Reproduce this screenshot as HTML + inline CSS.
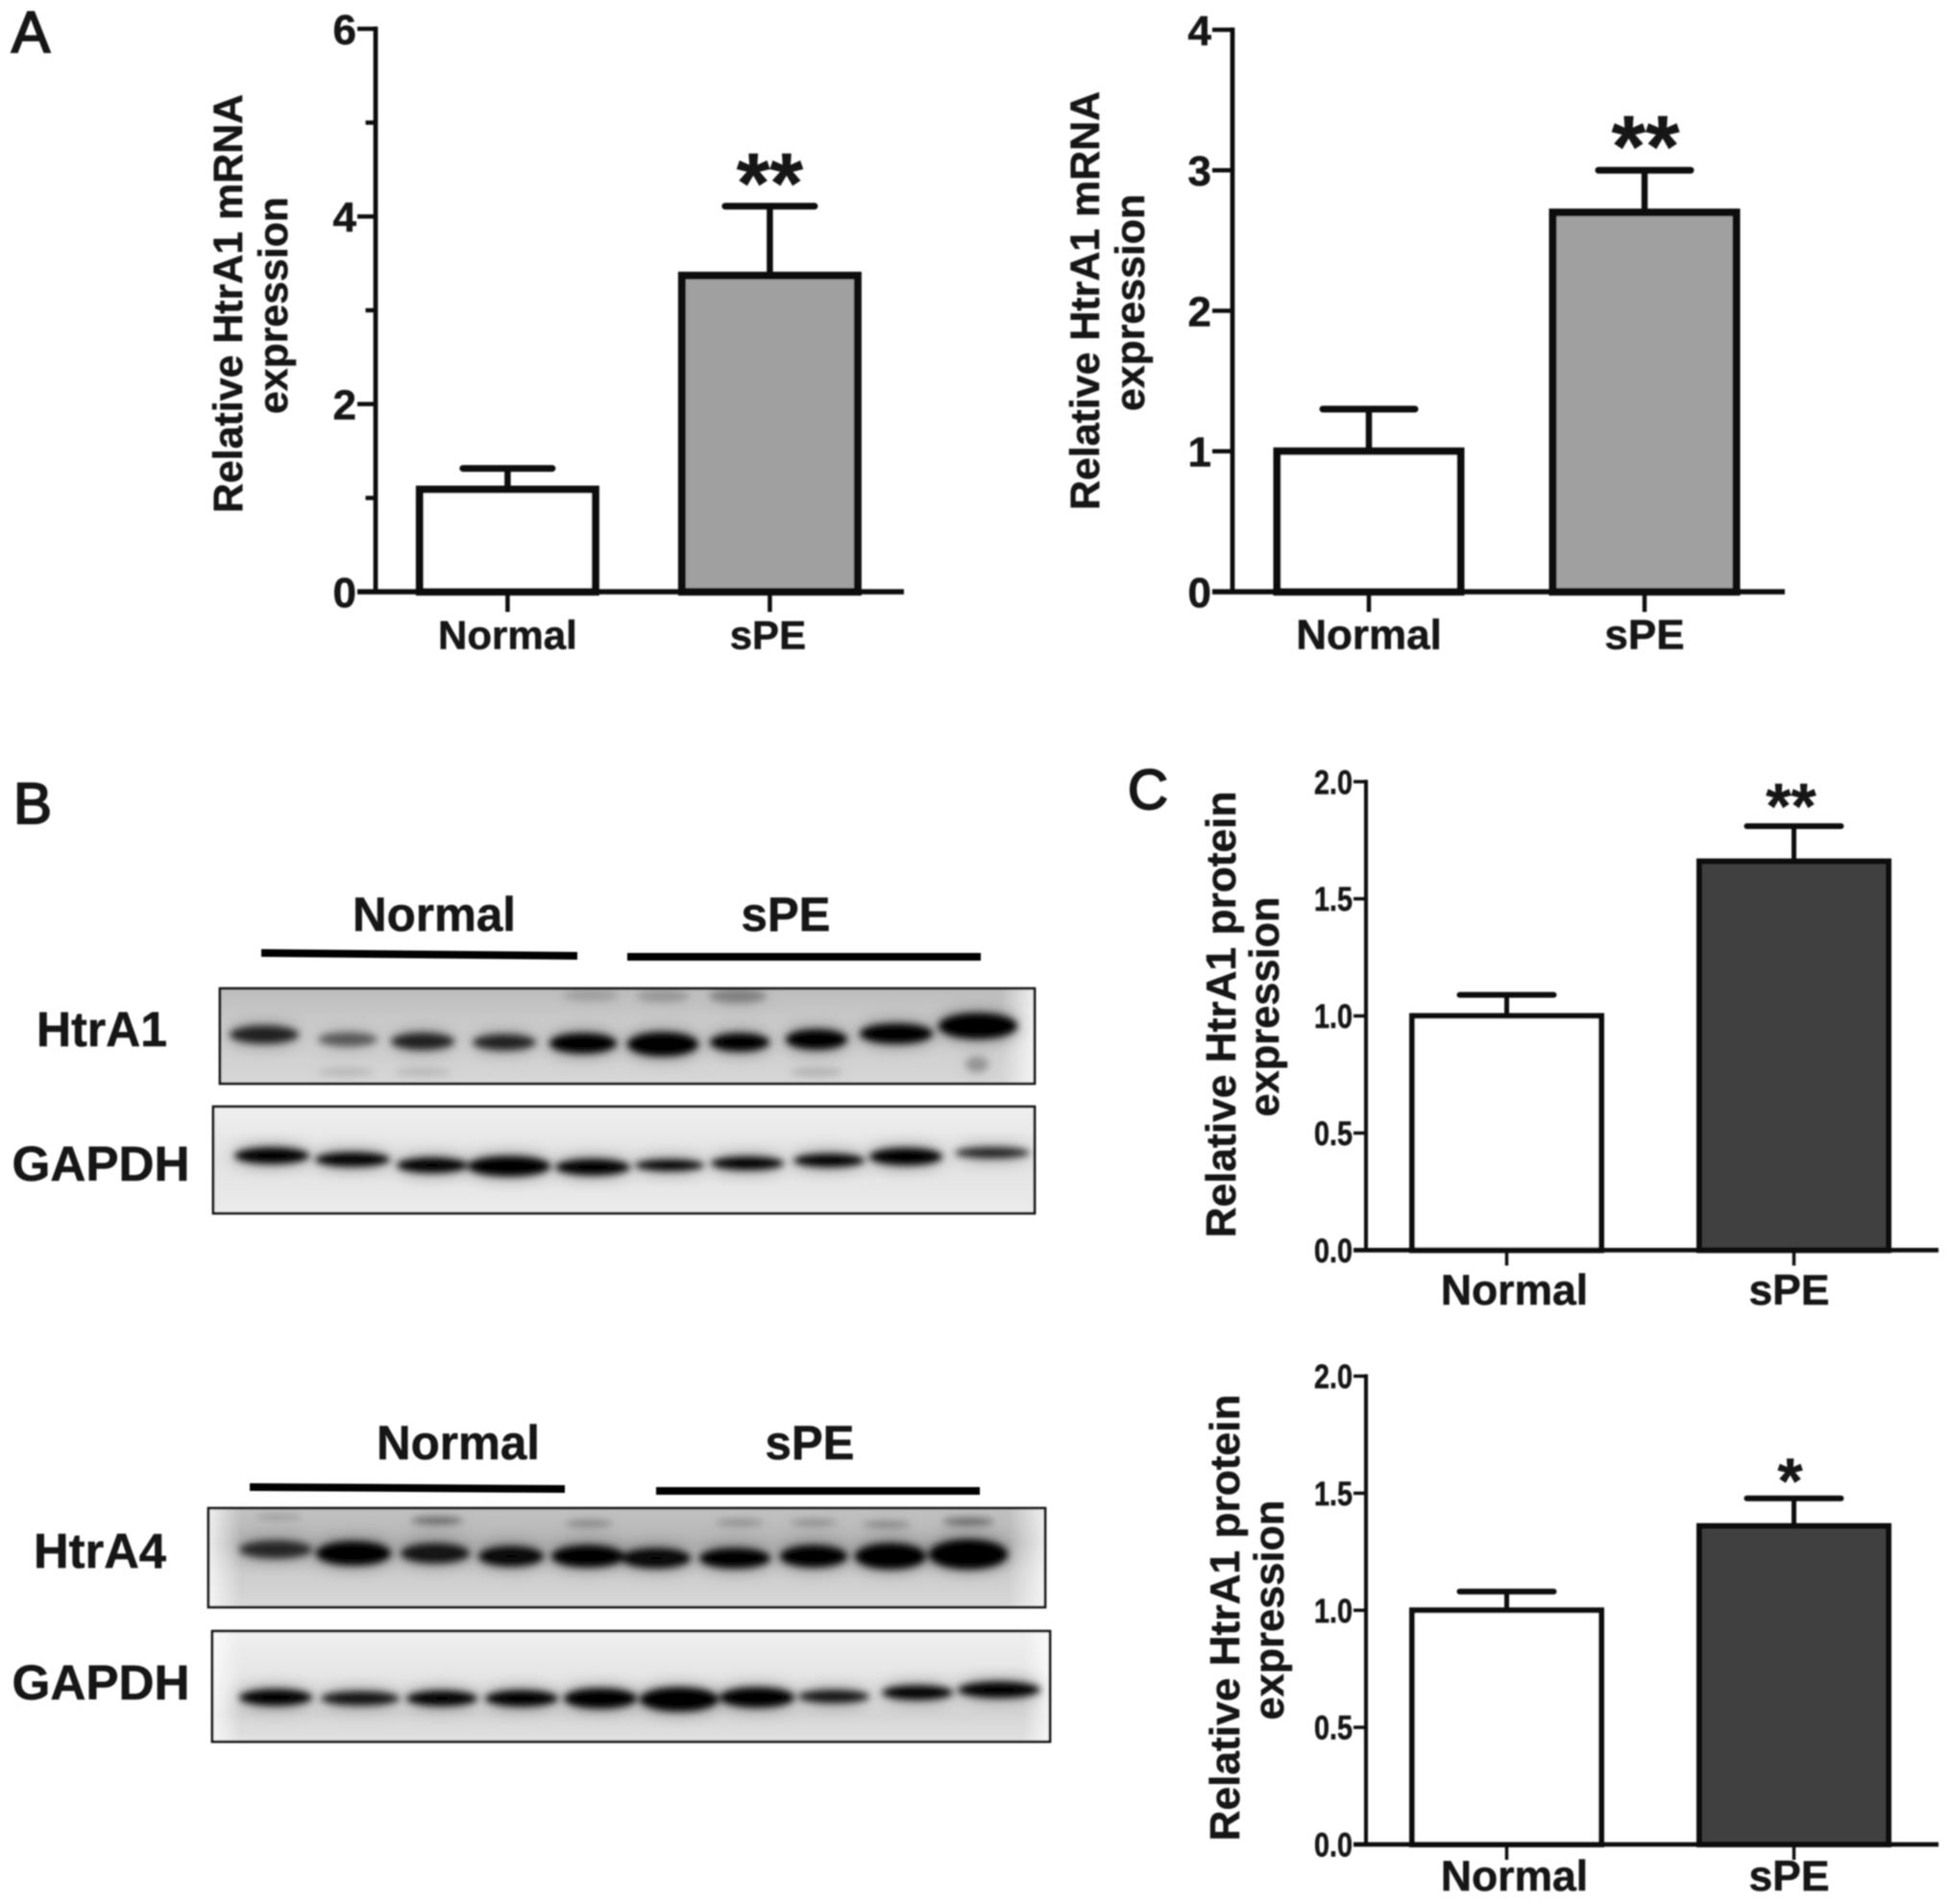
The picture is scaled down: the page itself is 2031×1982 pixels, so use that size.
<!DOCTYPE html>
<html lang="en">
<head>
<meta charset="utf-8">
<title>HtrA1 and HtrA4 expression</title>
<style>
html,body{margin:0;padding:0;background:#fff;}
svg{display:block;}
text{font-family:"Liberation Sans",sans-serif;font-weight:bold;fill:#141414;stroke:#141414;stroke-width:0.5px;}
</style>
</head>
<body>
<svg id="figure" xmlns="http://www.w3.org/2000/svg" width="2031" height="1982" viewBox="0 0 2031 1982">
<defs>
<filter id="soft" x="-5%" y="-5%" width="110%" height="110%"><feGaussianBlur stdDeviation="0.7"/></filter>
<filter id="bandBlur" x="-10%" y="-60%" width="120%" height="220%">
<feGaussianBlur in="SourceGraphic" stdDeviation="3.8" result="core"/>
<feGaussianBlur in="SourceGraphic" stdDeviation="9" result="wide"/>
<feComponentTransfer in="wide" result="halo"><feFuncA type="linear" slope="0.55"/></feComponentTransfer>
<feMerge><feMergeNode in="halo"/><feMergeNode in="core"/></feMerge>
</filter>
<linearGradient id="bgA1" x1="0" y1="0" x2="0" y2="1"><stop offset="0" stop-color="#bcbcbc"/><stop offset="0.35" stop-color="#cacaca"/><stop offset="1" stop-color="#d6d6d6"/></linearGradient>
<linearGradient id="bgG1" x1="0" y1="0" x2="0" y2="1"><stop offset="0" stop-color="#efefef"/><stop offset="0.5" stop-color="#e2e2e2"/><stop offset="1" stop-color="#ebebeb"/></linearGradient>
<linearGradient id="bgA4" x1="0" y1="0" x2="0" y2="1"><stop offset="0" stop-color="#c2c2c2"/><stop offset="0.35" stop-color="#b4b4b4"/><stop offset="0.65" stop-color="#cccccc"/><stop offset="1" stop-color="#d8d8d8"/></linearGradient>
<linearGradient id="bgG2" x1="0" y1="0" x2="0" y2="1"><stop offset="0" stop-color="#efefef"/><stop offset="0.45" stop-color="#e4e4e4"/><stop offset="0.75" stop-color="#d4d4d4"/><stop offset="1" stop-color="#e2e2e2"/></linearGradient>
<linearGradient id="edgeL" x1="0" y1="0" x2="1" y2="0"><stop offset="0" stop-color="#fff" stop-opacity="0.75"/><stop offset="1" stop-color="#fff" stop-opacity="0"/></linearGradient>
<linearGradient id="edgeR" x1="0" y1="0" x2="1" y2="0"><stop offset="0" stop-color="#fff" stop-opacity="0"/><stop offset="1" stop-color="#fff" stop-opacity="0.75"/></linearGradient>
<clipPath id="clipA1"><rect x="229" y="1029" width="848" height="99"/></clipPath>
<clipPath id="clipG1"><rect x="222" y="1152" width="855" height="111"/></clipPath>
<clipPath id="clipA4"><rect x="217" y="1570" width="871" height="103"/></clipPath>
<clipPath id="clipG2"><rect x="221" y="1698" width="872" height="115"/></clipPath>
</defs>
<g id="root" filter="url(#soft)">
<text x="12" y="54" font-size="60" style="font-weight:normal;stroke-width:2px">A</text>
<text x="14" y="857" font-size="60" style="font-weight:normal;stroke-width:2px">B</text>
<text x="1174" y="842" font-size="58" style="font-weight:normal;stroke-width:2px">C</text>

<g>
<text x="452" y="969" text-anchor="middle" font-size="50" textLength="170" lengthAdjust="spacingAndGlyphs">Normal</text>
<text x="818" y="969" text-anchor="middle" font-size="50" textLength="93" lengthAdjust="spacingAndGlyphs">sPE</text>
<polygon points="272,988 601,991 601,999 272,996" fill="#000"/>
<rect x="653" y="992" width="368" height="8" fill="#000"/>
<text x="106" y="1089" text-anchor="middle" font-size="51" textLength="136" lengthAdjust="spacingAndGlyphs">HtrA1</text>
<text x="105" y="1229" text-anchor="middle" font-size="51" textLength="185" lengthAdjust="spacingAndGlyphs">GAPDH</text>

<g clip-path="url(#clipA1)">
<rect x="229" y="1029" width="848" height="99" fill="url(#bgA1)"/>
<rect x="1042" y="1029" width="35" height="99" fill="url(#edgeR)"/>
<g filter="url(#bandBlur)">
<ellipse cx="275" cy="1077" rx="36" ry="9" opacity="0.78"/>
<ellipse cx="362" cy="1082" rx="31" ry="7" opacity="0.5"/>
<ellipse cx="440" cy="1084" rx="33" ry="8.5" opacity="0.78"/>
<ellipse cx="525" cy="1085" rx="33" ry="8" opacity="0.78"/>
<ellipse cx="607" cy="1086" rx="35" ry="10" opacity="1"/>
<ellipse cx="690" cy="1087" rx="37" ry="12" opacity="1"/>
<ellipse cx="770" cy="1085" rx="31" ry="9" opacity="1"/>
<ellipse cx="850" cy="1082" rx="32" ry="10" opacity="1"/>
<ellipse cx="933" cy="1076" rx="38" ry="10" opacity="1"/>
<ellipse cx="1018" cy="1068" rx="41" ry="13" opacity="1"/>
<ellipse cx="615" cy="1036" rx="30" ry="6" opacity="0.14"/>
<ellipse cx="690" cy="1037" rx="28" ry="6" opacity="0.18"/>
<ellipse cx="768" cy="1037" rx="30" ry="7" opacity="0.28"/>
<ellipse cx="360" cy="1116" rx="30" ry="4" opacity="0.12"/>
<ellipse cx="440" cy="1116" rx="30" ry="4" opacity="0.12"/>
<ellipse cx="850" cy="1116" rx="28" ry="4" opacity="0.15"/>
<ellipse cx="1017" cy="1108" rx="12" ry="8" opacity="0.25"/>
</g>
</g>
<rect x="229" y="1029" width="848" height="99" fill="none" stroke="#141414" stroke-width="2.8"/>

<g clip-path="url(#clipG1)">
<rect x="222" y="1152" width="855" height="111" fill="url(#bgG1)"/>
<g filter="url(#bandBlur)">
<ellipse cx="283" cy="1203" rx="39" ry="8"/>
<ellipse cx="367" cy="1207" rx="39" ry="7"/>
<ellipse cx="450" cy="1213" rx="37" ry="7.5"/>
<ellipse cx="530" cy="1214" rx="43" ry="10"/>
<ellipse cx="617" cy="1215" rx="39" ry="8"/>
<ellipse cx="697" cy="1213" rx="36" ry="5.5"/>
<ellipse cx="778" cy="1211" rx="38" ry="6.5"/>
<ellipse cx="863" cy="1208" rx="37" ry="6.5"/>
<ellipse cx="943" cy="1204" rx="38" ry="8.5"/>
<ellipse cx="1033" cy="1200" rx="39" ry="5.5" opacity="0.82"/>
</g>
</g>
<rect x="222" y="1152" width="855" height="111" fill="none" stroke="#141414" stroke-width="2.8"/>
</g>

<g>
<text x="477" y="1519" text-anchor="middle" font-size="50" textLength="170" lengthAdjust="spacingAndGlyphs">Normal</text>
<text x="843" y="1519" text-anchor="middle" font-size="50" textLength="93" lengthAdjust="spacingAndGlyphs">sPE</text>
<polygon points="260,1544 588,1546 588,1554 260,1552" fill="#000"/>
<rect x="683" y="1548" width="337" height="8" fill="#000"/>
<text x="104" y="1632" text-anchor="middle" font-size="51" textLength="138" lengthAdjust="spacingAndGlyphs">HtrA4</text>
<text x="105" y="1769" text-anchor="middle" font-size="51" textLength="185" lengthAdjust="spacingAndGlyphs">GAPDH</text>

<g clip-path="url(#clipA4)">
<rect x="217" y="1570" width="871" height="103" fill="url(#bgA4)"/>
<rect x="217" y="1570" width="34" height="103" fill="url(#edgeL)"/>
<rect x="1050" y="1570" width="38" height="103" fill="url(#edgeR)"/>
<g filter="url(#bandBlur)">
<ellipse cx="287" cy="1613" rx="38" ry="9" opacity="0.72"/>
<ellipse cx="368" cy="1617" rx="39" ry="12"/>
<ellipse cx="453" cy="1617" rx="36" ry="10" opacity="0.85"/>
<ellipse cx="532" cy="1620" rx="34" ry="10" opacity="0.95"/>
<ellipse cx="612" cy="1620" rx="38" ry="11"/>
<ellipse cx="683" cy="1622" rx="36" ry="10" opacity="0.95"/>
<ellipse cx="765" cy="1622" rx="37" ry="10"/>
<ellipse cx="847" cy="1620" rx="35" ry="11"/>
<ellipse cx="927" cy="1620" rx="37" ry="13"/>
<ellipse cx="1008" cy="1618" rx="41" ry="15"/>
<ellipse cx="290" cy="1579" rx="25" ry="2.5" opacity="0.2"/>
<ellipse cx="455" cy="1583" rx="27" ry="3" opacity="0.5"/>
<ellipse cx="613" cy="1586" rx="25" ry="3" opacity="0.3"/>
<ellipse cx="770" cy="1585" rx="25" ry="2.5" opacity="0.3"/>
<ellipse cx="847" cy="1585" rx="25" ry="2.5" opacity="0.3"/>
<ellipse cx="923" cy="1587" rx="25" ry="2.5" opacity="0.35"/>
<ellipse cx="1008" cy="1584" rx="27" ry="3" opacity="0.5"/>
</g>
</g>
<rect x="217" y="1570" width="871" height="103" fill="none" stroke="#141414" stroke-width="2.8"/>

<g clip-path="url(#clipG2)">
<rect x="221" y="1698" width="872" height="115" fill="url(#bgG2)"/>
<rect x="221" y="1698" width="30" height="115" fill="url(#edgeL)"/>
<rect x="1065" y="1698" width="28" height="115" fill="url(#edgeR)"/>
<g filter="url(#bandBlur)">
<ellipse cx="287" cy="1767" rx="38" ry="8"/>
<ellipse cx="375" cy="1768" rx="41" ry="7" opacity="0.88"/>
<ellipse cx="460" cy="1768" rx="37" ry="7.5"/>
<ellipse cx="543" cy="1768" rx="38" ry="8"/>
<ellipse cx="625" cy="1768" rx="38" ry="10"/>
<ellipse cx="707" cy="1769" rx="41" ry="12"/>
<ellipse cx="788" cy="1767" rx="39" ry="10"/>
<ellipse cx="868" cy="1766" rx="37" ry="6.5" opacity="0.88"/>
<ellipse cx="955" cy="1762" rx="37" ry="7"/>
<ellipse cx="1040" cy="1759" rx="43" ry="8"/>
</g>
</g>
<rect x="221" y="1698" width="872" height="115" fill="none" stroke="#141414" stroke-width="2.8"/>
</g>
</g>
</svg>
<script>
// ---- chart data ----
const categories = ['Normal', 'sPE'];

const mrnaLeftMeans = [1.09, 3.37];
const mrnaLeftErrors = [0.225, 0.74];
const mrnaLeftTicks = [0, 2, 4, 6];
const mrnaLeftMinorTicks = [1, 3, 5];
const mrnaLeftTickLabels = ['0', '2', '4', '6'];
const mrnaLeftStars = ['', '**'];

const mrnaRightMeans = [1.0, 2.7];
const mrnaRightErrors = [0.3, 0.3];
const mrnaRightTicks = [0, 1, 2, 3, 4];
const mrnaRightMinorTicks = [];
const mrnaRightTickLabels = ['0', '1', '2', '3', '4'];
const mrnaRightStars = ['', '**'];

const proteinTopMeans = [1.0, 1.66];
const proteinTopErrors = [0.09, 0.15];
const proteinTopTicks = [0, 0.5, 1.0, 1.5, 2.0];
const proteinTopMinorTicks = [];
const proteinTopTickLabels = ['0.0', '0.5', '1.0', '1.5', '2.0'];
const proteinTopStars = ['', '**'];

const proteinBottomMeans = [1.0, 1.36];
const proteinBottomErrors = [0.08, 0.118];
const proteinBottomTicks = [0, 0.5, 1.0, 1.5, 2.0];
const proteinBottomMinorTicks = [];
const proteinBottomTickLabels = ['0.0', '0.5', '1.0', '1.5', '2.0'];
const proteinBottomStars = ['', '*'];

const NS = 'http://www.w3.org/2000/svg';
const root = document.getElementById('root');

function make(tag, attrs, parent) {
  const el = document.createElementNS(NS, tag);
  for (const k in attrs) el.setAttribute(k, attrs[k]);
  parent.appendChild(el);
  return el;
}

function drawChart(cfg) {
  const yScale = v => cfg.yBase - (v / cfg.yMax) * (cfg.yBase - cfg.yTop);
  const xScale = i => cfg.firstCenter + i * cfg.step;
  const ink = '#111111';

  const g = make('g', {}, root);
  
  

  // bars
  cfg.means.forEach((m, i) => {
    const top = yScale(m);
    const bar = make('rect', {
      x: xScale(i) - cfg.barWidth / 2, y: top,
      width: cfg.barWidth, height: cfg.yBase - top,
      fill: i === 0 ? '#ffffff' : cfg.fill, stroke: ink, 'stroke-width': cfg.barStroke
    }, g);
    
    

    const capY = yScale(m + cfg.errors[i]);
    const whisker = make('line', {
      x1: xScale(i), x2: xScale(i), y1: top, y2: capY,
      stroke: ink, 'stroke-width': cfg.whiskerStroke
    }, g);
    
    

    const cap = make('line', {
      x1: xScale(i) - cfg.capWidth / 2, x2: xScale(i) + cfg.capWidth / 2, y1: capY, y2: capY,
      stroke: ink, 'stroke-width': cfg.capStroke, 'stroke-linecap': 'round'
    }, g);
    
    

    if (cfg.stars[i]) {
      const star = make('text', {
        x: xScale(i) + cfg.starDx, y: capY - cfg.starGap, 'text-anchor': 'middle',
        'font-size': cfg.starSize
      }, g);
      star.textContent = cfg.stars[i];
      
      
    }
  });

  // y axis
  const yAxis = make('line', {
    x1: cfg.axisX, x2: cfg.axisX, y1: yScale(cfg.yMax) - cfg.axisStroke / 2, y2: cfg.yBase,
    stroke: ink, 'stroke-width': cfg.axisStroke
  }, g);
  
  

  cfg.ticks.forEach((t, i) => {
    const tick = make('line', {
      x1: cfg.axisX - cfg.tickLen, x2: cfg.axisX, y1: yScale(t), y2: yScale(t),
      stroke: ink, 'stroke-width': cfg.tickStroke
    }, g);
    
    

    const labelAttrs = {
      x: cfg.axisX - cfg.tickLen - 1, y: yScale(t) + cfg.tickFont * 0.36, 'text-anchor': 'end',
      'font-size': cfg.tickFont
    };
    if (cfg.tickTextWidth) {
      labelAttrs.textLength = cfg.tickTextWidth;
      labelAttrs.lengthAdjust = 'spacingAndGlyphs';
    }
    const label = make('text', labelAttrs, g);
    label.textContent = cfg.tickLabels[i];
    
    
  });

  cfg.minorTicks.forEach(t => {
    const minor = make('line', {
      x1: cfg.axisX - cfg.tickLen * 0.55, x2: cfg.axisX, y1: yScale(t), y2: yScale(t),
      stroke: ink, 'stroke-width': cfg.tickStroke
    }, g);
    
    
  });

  // x axis
  const xAxis = make('line', {
    x1: cfg.axisX - cfg.tickLen, x2: cfg.xEnd, y1: cfg.yBase, y2: cfg.yBase,
    stroke: ink, 'stroke-width': cfg.axisStroke + 0.8
  }, g);
  
  

  categories.forEach((c, i) => {
    const tick = make('line', {
      x1: xScale(i), x2: xScale(i), y1: cfg.yBase, y2: cfg.yBase + cfg.xTickLen,
      stroke: ink, 'stroke-width': cfg.tickStroke
    }, g);
    
    

    const label = make('text', {
      x: xScale(i) + (i === 0 ? cfg.labelDx0 : cfg.labelDx1), y: cfg.labelY, 'text-anchor': 'middle',
      'font-size': cfg.labelFont
    }, g);
    label.textContent = c;
    
    
  });

  // y title (two lines, rotated)
  const t1 = make('text', {
    transform: 'translate(' + cfg.title1X + ',' + cfg.title1Mid + ') rotate(-90)',
    'text-anchor': 'middle', 'font-size': cfg.titleFont,
    textLength: cfg.title1Len, lengthAdjust: 'spacingAndGlyphs'
  }, g);
  t1.textContent = cfg.title1;
  
  

  const t2 = make('text', {
    transform: 'translate(' + cfg.title2X + ',' + cfg.title2Mid + ') rotate(-90)',
    'text-anchor': 'middle', 'font-size': cfg.titleFont,
    textLength: cfg.title2Len, lengthAdjust: 'spacingAndGlyphs'
  }, g);
  t2.textContent = 'expression';
  
  
}

drawChart({
  id: 'mrna-left', means: mrnaLeftMeans, errors: mrnaLeftErrors, ticks: mrnaLeftTicks,
  minorTicks: mrnaLeftMinorTicks, tickLabels: mrnaLeftTickLabels, stars: mrnaLeftStars, yMax: 6,
  axisX: 391, yTop: 30, yBase: 616, xEnd: 941, firstCenter: 528.4, step: 273,
  barWidth: 183, barStroke: 8, whiskerStroke: 6.5, capWidth: 93, capStroke: 7, axisStroke: 4.8,
  tickStroke: 4.5, tickLen: 19, xTickLen: 21, tickFont: 44, labelFont: 42, labelY: 675.5,
  labelDx0: 0, labelDx1: -2, fill: '#a0a0a0', starSize: 89, starDx: 0, starGap: -7,
  title1: 'Relative HtrA1 mRNA', title1X: 252, title1Mid: 316, title1Len: 436,
  title2X: 299, title2Mid: 318, title2Len: 226, titleFont: 43
});

drawChart({
  id: 'mrna-right', means: mrnaRightMeans, errors: mrnaRightErrors, ticks: mrnaRightTicks,
  minorTicks: mrnaRightMinorTicks, tickLabels: mrnaRightTickLabels, stars: mrnaRightStars, yMax: 4,
  axisX: 1283, yTop: 31, yBase: 616, xEnd: 1858, firstCenter: 1425, step: 287,
  barWidth: 191, barStroke: 8, whiskerStroke: 6.5, capWidth: 96, capStroke: 7, axisStroke: 4.8,
  tickStroke: 4.5, tickLen: 21, xTickLen: 21, tickFont: 44, labelFont: 44, labelY: 675.5,
  labelDx0: 0, labelDx1: 0, fill: '#a0a0a0', starSize: 91, starDx: 1, starGap: -6,
  title1: 'Relative HtrA1 mRNA', title1X: 1144, title1Mid: 313, title1Len: 436,
  title2X: 1191, title2Mid: 315, title2Len: 226, titleFont: 43
});

drawChart({
  id: 'protein-top', means: proteinTopMeans, errors: proteinTopErrors, ticks: proteinTopTicks,
  minorTicks: proteinTopMinorTicks, tickLabels: proteinTopTickLabels, stars: proteinTopStars, yMax: 2,
  axisX: 1422, yTop: 813.7, yBase: 1301.4, xEnd: 2018, firstCenter: 1568.5, step: 299,
  barWidth: 197, barStroke: 6, whiskerStroke: 5, capWidth: 98, capStroke: 6, axisStroke: 4,
  tickStroke: 3.5, tickLen: 13, xTickLen: 16, tickFont: 35, tickTextWidth: 40, labelFont: 44.5, labelY: 1358,
  labelDx0: 8, labelDx1: -5, fill: '#404040', starSize: 67, starDx: -3, starGap: -2,
  title1: 'Relative HtrA1 protein', title1X: 1286, title1Mid: 1056, title1Len: 465,
  title2X: 1331, title2Mid: 1048, title2Len: 229, titleFont: 44
});

drawChart({
  id: 'protein-bottom', means: proteinBottomMeans, errors: proteinBottomErrors, ticks: proteinBottomTicks,
  minorTicks: proteinBottomMinorTicks, tickLabels: proteinBottomTickLabels, stars: proteinBottomStars, yMax: 2,
  axisX: 1422, yTop: 1432.5, yBase: 1920, xEnd: 2018, firstCenter: 1568.5, step: 299,
  barWidth: 197, barStroke: 6, whiskerStroke: 5, capWidth: 98, capStroke: 6, axisStroke: 4,
  tickStroke: 3.5, tickLen: 13, xTickLen: 16, tickFont: 35, tickTextWidth: 40, labelFont: 44.5, labelY: 1968,
  labelDx0: 8, labelDx1: -5, fill: '#404040', starSize: 67, starDx: -4, starGap: -5,
  title1: 'Relative HtrA1 protein', title1X: 1290, title1Mid: 1684, title1Len: 465,
  title2X: 1336, title2Mid: 1676, title2Len: 229, titleFont: 44
});
</script>
</body>
</html>
